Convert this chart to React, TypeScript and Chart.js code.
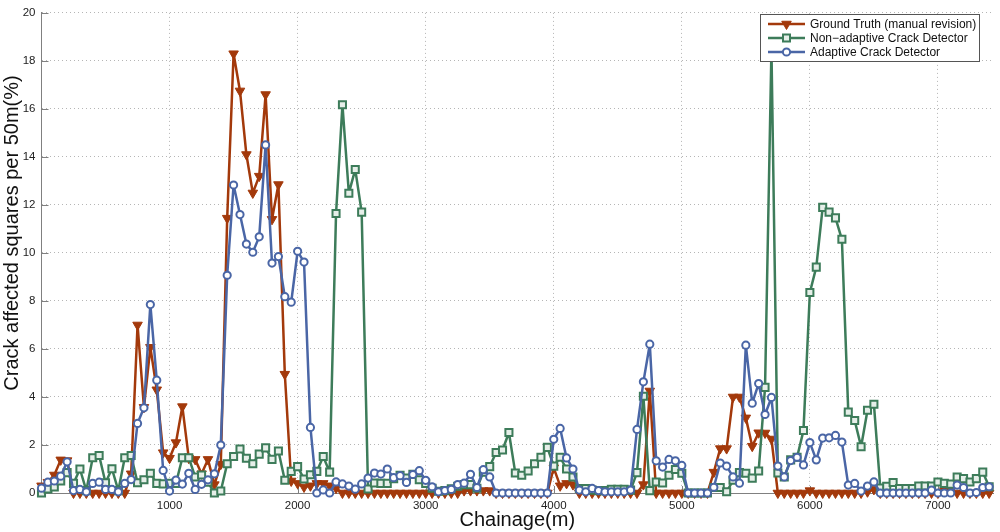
import React, { useEffect, useRef } from 'react';
import { Chart, registerables } from 'chart.js';

Chart.register(...registerables);

const FONT = '"Liberation Sans", Arial, Helvetica, sans-serif';

const chainage = [
  0, 50, 100, 150, 200, 250, 300, 350, 400, 450,
  500, 550, 600, 650, 700, 750, 800, 850, 900, 950,
  1000, 1050, 1100, 1150, 1200, 1250, 1300, 1350, 1400, 1450,
  1500, 1550, 1600, 1650, 1700, 1750, 1800, 1850, 1900, 1950,
  2000, 2050, 2100, 2150, 2200, 2250, 2300, 2350, 2400, 2450,
  2500, 2550, 2600, 2650, 2700, 2750, 2800, 2850, 2900, 2950,
  3000, 3050, 3100, 3150, 3200, 3250, 3300, 3350, 3400, 3450,
  3500, 3550, 3600, 3650, 3700, 3750, 3800, 3850, 3900, 3950,
  4000, 4050, 4100, 4150, 4200, 4250, 4300, 4350, 4400, 4450,
  4500, 4550, 4600, 4650, 4700, 4750, 4800, 4850, 4900, 4950,
  5000, 5050, 5100, 5150, 5200, 5250, 5300, 5350, 5400, 5450,
  5500, 5550, 5600, 5650, 5700, 5750, 5800, 5850, 5900, 5950,
  6000, 6050, 6100, 6150, 6200, 6250, 6300, 6350, 6400, 6450,
  6500, 6550, 6600, 6650, 6700, 6750, 6800, 6850, 6900, 6950,
  7000, 7050, 7100, 7150, 7200, 7250, 7300, 7350, 7400,
];

const groundTruth = [
  0.3, 0.45, 0.75, 1.38, 1.35, 0, 0, 0, 0, 0,
  0, 0, 0, 0, 0.8, 7.0, 3.57, 6.07, 4.3, 1.68,
  1.45, 2.1, 3.6, 1.45, 1.4, 0.8, 1.4, 0.35, 1.2, 11.45,
  18.3, 16.75, 14.1, 12.5, 13.2, 16.6, 11.4, 12.85, 4.95, 0.5,
  0.4, 0.25, 0.3, 0.4, 0.4, 0.3, 0.2, 0, 0, 0,
  0, 0, 0, 0, 0, 0, 0, 0, 0, 0,
  0, 0, 0, 0, 0, 0, 0.1, 0.1, 0.1, 0.1,
  0.1, 0, 0, 0, 0, 0, 0, 0, 0, 0,
  1.05, 0.3, 0.4, 0.35, 0, 0, 0, 0, 0, 0,
  0, 0, 0, 0, 0.35, 4.25, 0, 0, 0, 0,
  0, 0, 0, 0, 0, 0.87, 1.85, 1.85, 4.0, 4.0,
  3.13, 1.95, 2.51, 2.5, 2.25, 0, 0, 0, 0, 0,
  0.1, 0, 0, 0, 0, 0, 0, 0, 0, 0.05,
  0.15, 0, 0, 0, 0, 0, 0, 0, 0, 0,
  0, 0.1, 0.1, 0, 0, 0, 0, 0, 0,
];

const nonAdaptive = [
  0, 0.17, 0.25, 0.5, 0.85, 0.4, 1.0, 0.1, 1.47, 1.56,
  0.43, 1.01, 0.1, 1.47, 1.56, 0.43, 0.55, 0.82, 0.4, 0.38,
  0.4, 0.4, 1.47, 1.47, 0.67, 0.75, 0.45, 0, 0.08, 1.22,
  1.52, 1.83, 1.45, 1.22, 1.62, 1.88, 1.4, 1.75, 0.53, 0.9,
  1.1, 0.58, 0.76, 0.9, 1.52, 0.87, 11.64, 16.17, 12.49, 13.48,
  11.7, 0.17, 0.42, 0.4, 0.4, 0.6, 0.74, 0.62, 0.78, 0.55,
  0.4, 0.2, 0.07, 0.1, 0.18, 0.28, 0.35, 0.35, 0.2, 0.87,
  1.1, 1.69, 1.79, 2.52, 0.83, 0.74, 0.92, 1.22, 1.49, 1.9,
  1.12, 1.49, 1.0, 0.67, 0.19, 0.19, 0.12, 0.1, 0.1, 0.15,
  0.15, 0.15, 0.12, 0.85, 4.03, 0.1, 0.46, 0.42, 0.74, 0.98,
  0.82, 0, 0, 0, 0, 0.23, 0.23, 0.05, 0.53, 0.85,
  0.82, 0.62, 0.92, 4.4, 18.5, 0.83, 0.67, 1.38, 1.49, 2.6,
  8.35, 9.41, 11.9, 11.7, 11.46, 10.57, 3.37, 3.02, 1.93, 3.45,
  3.7, 0.21, 0.28, 0.44, 0.19, 0.19, 0.19, 0.29, 0.29, 0.29,
  0.46, 0.4, 0.37, 0.67, 0.6, 0.46, 0.6, 0.87, 0.26,
];

const adaptive = [
  0.2, 0.45, 0.5, 0.7, 1.3, 0.1, 0.15, 0.05, 0.4, 0.45,
  0.15, 0.15, 0.05, 0.4, 0.56, 2.9, 3.55, 7.85, 4.7, 0.94,
  0.08, 0.54, 0.37, 0.82, 0.15, 0.36, 0.55, 0.8, 2.0, 9.07,
  12.83, 11.6, 10.37, 10.03, 10.67, 14.5, 9.58, 9.85, 8.18, 7.95,
  10.07, 9.62, 2.73, 0, 0.13, 0, 0.46, 0.38, 0.29, 0.16,
  0.38, 0.62, 0.83, 0.79, 1.0, 0.64, 0.72, 0.44, 0.77, 0.93,
  0.53, 0.26, 0.05, 0.1, 0.15, 0.35, 0.41, 0.78, 0.23, 0.97,
  0.67, 0, 0, 0, 0, 0, 0, 0, 0, 0,
  2.24, 2.69, 1.46, 1.0, 0.12, 0.05, 0.19, 0.1, 0.05, 0.05,
  0.05, 0.05, 0.12, 2.65, 4.63, 6.2, 1.34, 1.08, 1.4, 1.34,
  1.15, 0, 0, 0, 0, 0.24, 1.25, 1.12, 0.67, 0.41,
  6.16, 3.74, 4.56, 3.27, 3.98, 1.12, 0.67, 1.35, 1.49, 1.17,
  2.1, 1.38, 2.29, 2.3, 2.4, 2.12, 0.33, 0.4, 0.08, 0.29,
  0.46, 0, 0, 0, 0, 0, 0, 0, 0, 0.12,
  0, 0, 0, 0.33, 0.23, 0, 0.02, 0.23, 0.26,
];

const xTicks = [1000, 2000, 3000, 4000, 5000, 6000, 7000];
const yTicks = [0, 2, 4, 6, 8, 10, 12, 14, 16, 18, 20];

const seriesLabels = [
  'Ground Truth (manual revision)',
  'Non\u2212adaptive Crack Detector',
  'Adaptive Crack Detector',
];

const RED = '#A3390B';
const GREEN = '#3D7C5A';
const BLUE = '#4A66A6';

const toPoints = (vals: number[]) => vals.map((v, i) => ({ x: chainage[i], y: v }));

function drawMarker(ctx: CanvasRenderingContext2D, kind: string, x: number, y: number) {
  ctx.save();
  if (kind === 'tri') {
    const r = 5.5;
    ctx.fillStyle = RED;
    ctx.strokeStyle = RED;
    ctx.lineWidth = 1;
    ctx.beginPath();
    ctx.moveTo(x, y + r);
    ctx.lineTo(x - r * 0.866, y - r * 0.5);
    ctx.lineTo(x + r * 0.866, y - r * 0.5);
    ctx.closePath();
    ctx.fill();
    ctx.stroke();
  } else if (kind === 'sq') {
    const s = 3.5;
    ctx.fillStyle = '#e6efe9';
    ctx.strokeStyle = GREEN;
    ctx.lineWidth = 2;
    ctx.beginPath();
    ctx.rect(x - s, y - s, 2 * s, 2 * s);
    ctx.fill();
    ctx.stroke();
  } else {
    ctx.fillStyle = '#ffffff';
    ctx.strokeStyle = BLUE;
    ctx.lineWidth = 2;
    ctx.beginPath();
    ctx.arc(x, y, 3.6, 0, Math.PI * 2);
    ctx.fill();
    ctx.stroke();
  }
  ctx.restore();
}

const innerTicksPlugin = {
  id: 'innerTicks',
  beforeDatasetsDraw(chart: any) {
    const { ctx, chartArea: a, scales } = chart;
    const x = scales.x;
    const y = scales.y;
    ctx.save();
    ctx.strokeStyle = '#808080';
    ctx.lineWidth = 1;
    ctx.beginPath();
    xTicks.forEach((v) => {
      const px = Math.round(x.getPixelForValue(v)) + 0.5;
      ctx.moveTo(px, a.bottom);
      ctx.lineTo(px, a.bottom - 7);
    });
    yTicks.forEach((v) => {
      const py = Math.round(y.getPixelForValue(v)) + 0.5;
      ctx.moveTo(a.left, py);
      ctx.lineTo(a.left + 7, py);
    });
    ctx.stroke();
    ctx.restore();
  },
};

const overlayPlugin = {
  id: 'overlay',
  afterDraw(chart: any) {
    const { ctx } = chart;
    ctx.save();
    ctx.translate(12, 233);
    ctx.rotate(-Math.PI / 2);
    ctx.font = `20px ${FONT}`;
    ctx.fillStyle = '#111';
    ctx.textAlign = 'center';
    ctx.textBaseline = 'middle';
    ctx.fillText('Crack affected squares per 50m(%)', 0, 0);
    ctx.restore();

    const bx = 760.5, by = 14.5, bw = 219, bh = 47;
    ctx.save();
    ctx.fillStyle = '#ffffff';
    ctx.fillRect(bx, by, bw, bh);
    ctx.strokeStyle = '#555';
    ctx.lineWidth = 1;
    ctx.strokeRect(bx, by, bw, bh);
    const colors = [RED, GREEN, BLUE];
    const kinds = ['tri', 'sq', 'circ'];
    const rows = [24, 38, 52];
    ctx.font = `12px ${FONT}`;
    ctx.textBaseline = 'middle';
    ctx.textAlign = 'left';
    for (let i = 0; i < 3; i++) {
      ctx.strokeStyle = colors[i];
      ctx.lineWidth = 2.5;
      ctx.beginPath();
      ctx.moveTo(768, rows[i]);
      ctx.lineTo(805, rows[i]);
      ctx.stroke();
      drawMarker(ctx, kinds[i], 786.5, rows[i]);
      ctx.fillStyle = '#111';
      ctx.fillText(seriesLabels[i], 810, rows[i] + 0.5);
    }
    ctx.restore();
  },
};

export default function App() {
  const ref = useRef<HTMLCanvasElement | null>(null);

  useEffect(() => {
    document.body.style.margin = '0';
    const canvas = ref.current;
    if (!canvas) return;
    const chart = new Chart(canvas, {
      type: 'line',
      data: {
        datasets: [
          {
            label: seriesLabels[0],
            data: toPoints(groundTruth),
            borderColor: RED,
            backgroundColor: RED,
            borderWidth: 2.5,
            borderJoinStyle: 'round',
            pointStyle: 'triangle',
            pointRotation: 180,
            pointRadius: 5.5,
            pointBackgroundColor: RED,
            pointBorderColor: RED,
            pointBorderWidth: 1,
            tension: 0,
            clip: false,
            order: 2,
          },
          {
            label: seriesLabels[1],
            data: toPoints(nonAdaptive),
            borderColor: GREEN,
            backgroundColor: GREEN,
            borderWidth: 2.5,
            borderJoinStyle: 'round',
            pointStyle: 'rect',
            pointRadius: 5,
            pointBackgroundColor: '#e6efe9',
            pointBorderColor: GREEN,
            pointBorderWidth: 2,
            tension: 0,
            clip: false,
            order: 1,
          },
          {
            label: seriesLabels[2],
            data: toPoints(adaptive),
            borderColor: BLUE,
            backgroundColor: BLUE,
            borderWidth: 2.5,
            borderJoinStyle: 'round',
            pointStyle: 'circle',
            pointRadius: 3.6,
            pointBackgroundColor: '#ffffff',
            pointBorderColor: BLUE,
            pointBorderWidth: 2,
            tension: 0,
            clip: false,
            order: 0,
          },
        ],
      },
      options: {
        animation: false,
        responsive: false,
        maintainAspectRatio: false,
        layout: { padding: { top: 5, right: 3, left: 0, bottom: 0 } },
        plugins: {
          legend: { display: false },
          tooltip: { enabled: false },
        },
        scales: {
          x: {
            type: 'linear',
            min: 0,
            max: 7430,
            afterBuildTicks: (s: any) => {
              s.ticks = xTicks.map((v) => ({ value: v }));
            },
            afterFit: (s: any) => {
              s.height = 39;
            },
            ticks: {
              font: { family: FONT, size: 11.5 },
              color: '#222',
              padding: 6,
              maxRotation: 0,
              autoSkip: false,
              callback: (v: any) => String(v),
            },
            grid: { color: '#b5b5b5', lineWidth: 1, drawTicks: false },
            border: { display: true, color: '#808080', width: 1, dash: [1, 3] },
            title: {
              display: true,
              text: 'Chainage(m)',
              font: { family: FONT, size: 20 },
              color: '#111',
              padding: 0,
            },
          },
          y: {
            type: 'linear',
            min: 0,
            max: 20,
            afterBuildTicks: (s: any) => {
              s.ticks = yTicks.map((v) => ({ value: v }));
            },
            afterFit: (s: any) => {
              s.width = 41.5;
            },
            ticks: {
              font: { family: FONT, size: 11.5 },
              color: '#222',
              padding: 6,
              callback: (v: any) => String(v),
            },
            grid: { color: '#b5b5b5', lineWidth: 1, drawTicks: false },
            border: { display: true, color: '#808080', width: 1, dash: [1, 3] },
            title: { display: false },
          },
        },
      },
      plugins: [innerTicksPlugin, overlayPlugin],
    } as any);
    return () => chart.destroy();
  }, []);

  return (
    <div style={{ width: 1000, height: 532 }}>
      <canvas ref={ref} width={1000} height={532} style={{ display: 'block' }} />
    </div>
  );
}
